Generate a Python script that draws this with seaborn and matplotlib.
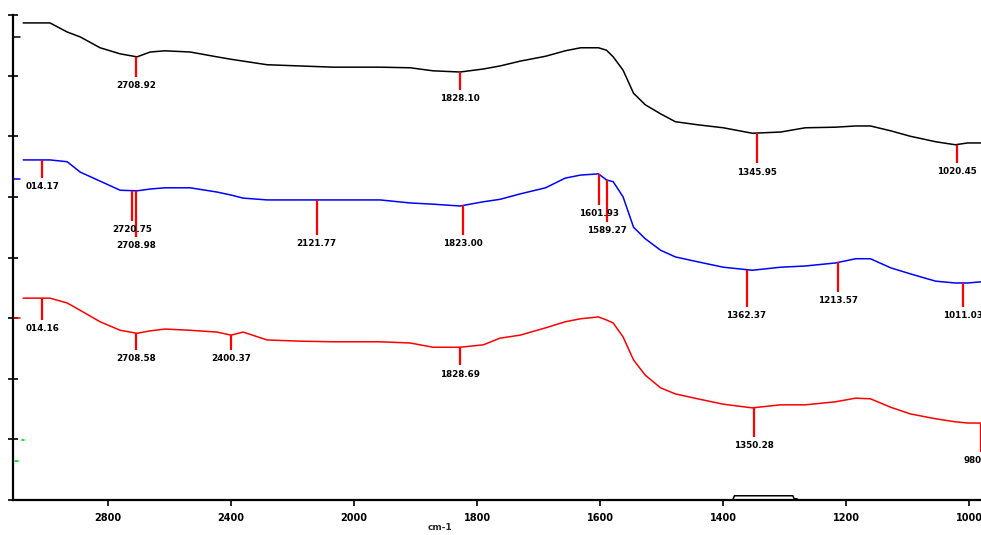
import numpy as np
import pandas as pd
import matplotlib
matplotlib.use("Agg")
import matplotlib.pyplot as plt
import seaborn as sns

# ---------------- data ----------------
wavenumber = [3076, 2989, 2933, 2891, 2826, 2761, 2706, 2663, 2615, 2533, 2446, 2400,
              2361, 2283, 2176, 2068, 2000, 1958, 1909, 1872, 1828, 1790, 1763, 1730,
              1689, 1657, 1632, 1603, 1590, 1579, 1563, 1546, 1527, 1502, 1478, 1442,
              1400, 1353, 1307, 1267, 1218, 1185, 1161, 1128, 1096, 1055, 1023, 1003, 980]

black_T = [78.7, 78.7, 77.2, 76.4, 74.6, 73.6, 73.1, 73.9, 74.1, 73.9, 73.1, 72.7,
           72.4, 71.8, 71.6, 71.4, 71.4, 71.4, 71.3, 70.8, 70.6, 71.1, 71.6, 72.4,
           73.2, 74.1, 74.6, 74.6, 74.2, 73.1, 70.9, 67.1, 65.2, 63.7, 62.4, 61.9,
           61.4, 60.5, 60.7, 61.4, 61.5, 61.7, 61.7, 60.9, 60.0, 59.1, 58.6, 58.9, 58.9]

blue_T = [56.1, 56.1, 55.8, 54.1, 52.6, 51.1, 51.0, 51.3, 51.5, 51.5, 50.8, 50.3,
          49.8, 49.5, 49.5, 49.5, 49.5, 49.5, 49.0, 48.8, 48.5, 49.2, 49.6, 50.5,
          51.5, 53.1, 53.6, 53.8, 52.8, 52.5, 50.0, 45.0, 43.1, 41.2, 40.1, 39.3,
          38.4, 37.9, 38.4, 38.6, 39.1, 39.8, 39.8, 38.3, 37.3, 36.1, 35.8, 35.8, 36.0]

red_T = [33.3, 33.3, 32.5, 31.3, 29.4, 28.0, 27.5, 27.9, 28.2, 28.0, 27.7, 27.2,
         27.7, 26.4, 26.2, 26.1, 26.1, 26.1, 25.9, 25.2, 25.2, 25.6, 26.7, 27.2,
         28.4, 29.4, 29.9, 30.2, 29.7, 29.2, 26.9, 23.1, 20.6, 18.5, 17.5, 16.7,
         15.8, 15.2, 15.7, 15.7, 16.2, 16.8, 16.7, 15.3, 14.2, 13.4, 12.9, 12.7, 12.7]

# fourth trace, only a fragment visible near the baseline
frag_wn = [1384, 1382, 1287, 1285, 1280]
frag_T = [0.2, 0.7, 0.7, 0.2, 0.2]

# left-edge offset marks of each trace
edge_wn = [3109, 3086]
edge_black = [76.4, 76.4]
edge_blue = [52.9, 52.9]
edge_red = [30.0, 30.0]
green_wn = [3080, 3075]
green_T1 = [9.9, 9.9]
green_wn2 = [3104, 3094]
green_T2 = [6.4, 6.4]

# peak picks: position, label, marker depth (%T)
black_peaks = [2708.92, 1828.10, 1345.95, 1020.45]
black_labels = ["2708.92", "1828.10", "1345.95", "1020.45"]
black_depth = [3.3, 3.0, 5.0, 3.0]

blue_peaks = [3014.17, 2720.75, 2708.98, 2121.77, 1823.00, 1601.93, 1589.27, 1362.37, 1213.57, 1011.03]
blue_labels = ["014.17", "2720.75", "2708.98", "2121.77", "1823.00", "1601.93", "1589.27",
               "1362.37", "1213.57", "1011.03"]
blue_depth = [3.0, 5.0, 7.6, 5.8, 4.8, 5.1, 6.9, 6.1, 4.8, 4.0]

red_peaks = [3014.16, 2708.58, 2400.37, 1828.69, 1350.28, 982.0]
red_labels = ["014.16", "2708.58", "2400.37", "1828.69", "1350.28", "980.16"]
red_depth = [3.6, 2.8, 2.5, 3.0, 4.8, 4.8]

xticks = [2800, 2400, 2000, 1800, 1600, 1400, 1200, 1000]
xticklabels = ["2800", "2400", "2000", "1800", "1600", "1400", "1200", "1000"]

# ---------------- plotting ----------------
sns.set_theme(style="white")
plt.rcParams['font.family'] = ['DejaVu Sans']

df = pd.DataFrame({
    "wn": wavenumber * 3,
    "T": black_T + blue_T + red_T,
    "trace": ["A"] * len(wavenumber) + ["B"] * len(wavenumber) + ["C"] * len(wavenumber),
})
palette = {"A": "#000000", "B": "#0000ff", "C": "#ff0000"}

fig = plt.figure(figsize=(9.81, 5.35), dpi=100)
ax = fig.add_axes([0.0133, 0.0654, 0.99, 0.9065])

sns.lineplot(data=df, x="wn", y="T", hue="trace", palette=palette, ax=ax,
             legend=False, linewidth=1.1, sort=False, estimator=None)
sns.lineplot(x=frag_wn, y=frag_T, color="black", ax=ax, linewidth=1.1, sort=False, estimator=None)
for yy, col in [(edge_black, "black"), (edge_blue, "#0000ff"), (edge_red, "#ff0000")]:
    ax.plot(edge_wn, yy, color=col, lw=1.1)
ax.plot(green_wn, green_T1, color="#00dd00", lw=1.2)
ax.plot(green_wn2, green_T2, color="#00dd00", lw=1.2)


def fwd(w):
    w = np.asarray(w, dtype=float)
    return np.where(w > 2000, 2000 + (w - 2000) / 2.0, w)


def inv(f):
    f = np.asarray(f, dtype=float)
    return np.where(f > 2000, 2000 + 2.0 * (f - 2000), f)


ax.set_xscale("function", functions=(fwd, inv))
ax.set_xlim(3109, 976)
ax.set_ylim(0, 80)


def draw_peaks(peaks, labels, depth, curve):
    for p, lab, d in zip(peaks, labels, depth):
        top = np.interp(p, wavenumber[::-1], curve[::-1])
        ax.plot([p, p], [top, top - d], color="#ff0000", lw=1.6, solid_capstyle="butt")
        ax.annotate(lab, xy=(p, top - d), xytext=(0, -3), textcoords="offset points",
                    ha="center", va="top", fontsize=6.3, fontweight="bold", color="black",
                    annotation_clip=False)


draw_peaks(black_peaks, black_labels, black_depth, black_T)
draw_peaks(blue_peaks, blue_labels, blue_depth, blue_T)
draw_peaks(red_peaks, red_labels, red_depth, red_T)

ax.set_xticks(xticks)
ax.set_xticklabels(xticklabels, fontsize=7, fontweight="bold")
ax.set_yticks(np.arange(0, 81, 10))
ax.set_yticklabels([])
ax.tick_params(axis="x", bottom=True, direction="out", length=4, width=1.2, colors="black", pad=5)
ax.tick_params(axis="y", left=True, direction="inout", length=7, width=1.2, colors="black")
ax.xaxis.set_minor_locator(matplotlib.ticker.NullLocator())
ax.set_xlabel("cm-1", fontsize=6.5, fontweight="bold")
ax.xaxis.set_label_coords(0.44, -0.048)
ax.set_ylabel("")

for s in ["top", "right"]:
    ax.spines[s].set_visible(False)
for s in ["left", "bottom"]:
    ax.spines[s].set_color("black")
    ax.spines[s].set_linewidth(1.6)
ax.grid(False)
ax.set_facecolor("white")

fig.savefig("out.png", dpi=100)
